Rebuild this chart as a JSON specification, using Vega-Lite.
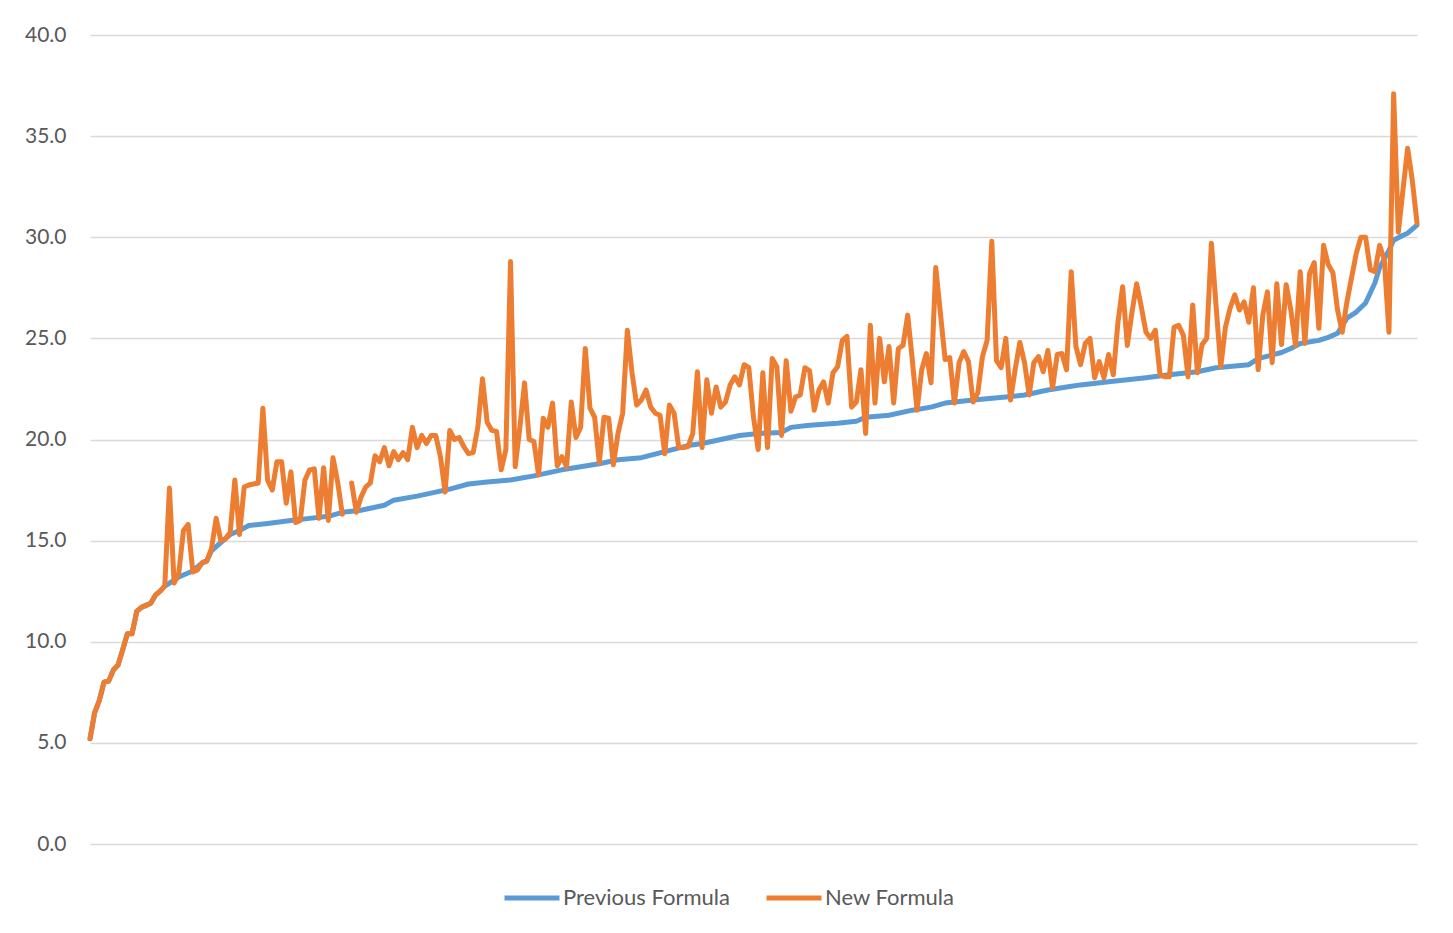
{
  "$schema": "https://vega.github.io/schema/vega-lite/v6.json",
  "width": 1327,
  "height": 809,
  "autosize": {"type": "none"},
  "padding": {"left": 90, "top": 35, "right": 36, "bottom": 89},
  "background": "white",
  "config": {"view": {"stroke": null}, "font": "Lato"},
  "datasets": {
    "prev": [
      {"i":0,"v":5.2},{"i":1,"v":6.5},{"i":2,"v":7.1},{"i":3,"v":8.0},{"i":4,"v":8.06},{"i":5,"v":8.6},{"i":6,"v":8.85},{"i":7,"v":9.6},{"i":8,"v":10.4},{"i":9,"v":10.4},{"i":10,"v":11.5},{"i":11,"v":11.7},{"i":12,"v":11.8},{"i":13,"v":11.9},{"i":14,"v":12.3},{"i":15,"v":12.5},{"i":16,"v":12.75},{"i":17,"v":12.9},{"i":19,"v":13.2},{"i":22,"v":13.5},{"i":24,"v":13.9},{"i":25,"v":14.0},{"i":26,"v":14.5},{"i":28,"v":14.9},{"i":30,"v":15.3},{"i":32,"v":15.5},{"i":34,"v":15.75},{"i":38,"v":15.85},{"i":43,"v":16.0},{"i":47,"v":16.1},{"i":51,"v":16.2},{"i":54,"v":16.4},{"i":58,"v":16.5},{"i":63,"v":16.75},{"i":65,"v":17.0},{"i":70,"v":17.2},{"i":74,"v":17.4},{"i":77,"v":17.55},{"i":81,"v":17.8},{"i":85,"v":17.9},{"i":90,"v":18.0},{"i":95,"v":18.2},{"i":98,"v":18.35},{"i":101,"v":18.5},{"i":109,"v":18.8},{"i":113,"v":19.0},{"i":118,"v":19.1},{"i":123,"v":19.4},{"i":128,"v":19.7},{"i":131,"v":19.8},{"i":135,"v":20.0},{"i":139,"v":20.2},{"i":143,"v":20.3},{"i":148,"v":20.35},{"i":150,"v":20.6},{"i":154,"v":20.7},{"i":160,"v":20.8},{"i":164,"v":20.9},{"i":166,"v":21.1},{"i":171,"v":21.2},{"i":176,"v":21.45},{"i":180,"v":21.6},{"i":183,"v":21.8},{"i":189,"v":21.95},{"i":196,"v":22.1},{"i":200,"v":22.2},{"i":205,"v":22.45},{"i":209,"v":22.6},{"i":212,"v":22.7},{"i":218,"v":22.85},{"i":226,"v":23.05},{"i":231,"v":23.2},{"i":237,"v":23.35},{"i":241,"v":23.55},{"i":248,"v":23.7},{"i":250,"v":24.0},{"i":255,"v":24.3},{"i":257,"v":24.5},{"i":259,"v":24.75},{"i":263,"v":24.9},{"i":265,"v":25.05},{"i":267,"v":25.25},{"i":269,"v":26.0},{"i":271,"v":26.3},{"i":273,"v":26.75},{"i":275,"v":27.75},{"i":276,"v":28.5},{"i":278,"v":29.35},{"i":279,"v":29.85},{"i":281,"v":30.1},{"i":282,"v":30.2},{"i":284,"v":30.6}
    ],
    "new": [
      {"i":0,"v":5.2},{"i":1,"v":6.5},{"i":2,"v":7.1},{"i":3,"v":8.0},{"i":4,"v":8.06},{"i":5,"v":8.6},{"i":6,"v":8.85},{"i":7,"v":9.6},{"i":8,"v":10.4},{"i":9,"v":10.4},
      {"i":10,"v":11.5},{"i":11,"v":11.7},{"i":12,"v":11.8},{"i":13,"v":11.9},{"i":14,"v":12.3},{"i":15,"v":12.5},{"i":16,"v":12.75},{"i":17,"v":17.6},{"i":18,"v":12.9},{"i":19,"v":13.4},
      {"i":20,"v":15.5},{"i":21,"v":15.8},{"i":22,"v":13.45},{"i":23,"v":13.55},{"i":24,"v":13.9},{"i":25,"v":14.0},{"i":26,"v":14.6},{"i":27,"v":16.1},{"i":28,"v":15.0},{"i":29,"v":15.1},
      {"i":30,"v":15.4},{"i":31,"v":18.0},{"i":32,"v":15.3},{"i":33,"v":17.65},{"i":34,"v":17.75},{"i":35,"v":17.8},{"i":36,"v":17.85},{"i":37,"v":21.55},{"i":38,"v":18.0},{"i":39,"v":17.5},
      {"i":40,"v":18.9},{"i":41,"v":18.9},{"i":42,"v":16.85},{"i":43,"v":18.4},{"i":44,"v":15.9},{"i":45,"v":16.0},{"i":46,"v":18.0},{"i":47,"v":18.5},{"i":48,"v":18.55},{"i":49,"v":16.1},
      {"i":50,"v":18.6},{"i":51,"v":16.0},{"i":52,"v":19.1},{"i":53,"v":17.9},{"i":54,"v":16.3},{"i":55,"v":null},{"i":56,"v":17.85},{"i":57,"v":16.4},{"i":58,"v":17.15},{"i":59,"v":17.65},
      {"i":60,"v":17.85},{"i":61,"v":19.2},{"i":62,"v":18.9},{"i":63,"v":19.6},{"i":64,"v":18.7},{"i":65,"v":19.4},{"i":66,"v":19.0},{"i":67,"v":19.35},{"i":68,"v":19.0},{"i":69,"v":20.6},
      {"i":70,"v":19.6},{"i":71,"v":20.2},{"i":72,"v":19.8},{"i":73,"v":20.2},{"i":74,"v":20.2},{"i":75,"v":19.15},{"i":76,"v":17.4},{"i":77,"v":20.45},{"i":78,"v":20.0},{"i":79,"v":20.1},
      {"i":80,"v":19.65},{"i":81,"v":19.3},{"i":82,"v":19.35},{"i":83,"v":20.6},{"i":84,"v":23.0},{"i":85,"v":20.85},{"i":86,"v":20.45},{"i":87,"v":20.4},{"i":88,"v":18.5},{"i":89,"v":19.5},
      {"i":90,"v":28.8},{"i":91,"v":18.65},{"i":92,"v":20.6},{"i":93,"v":22.8},{"i":94,"v":20.0},{"i":95,"v":19.9},{"i":96,"v":18.25},{"i":97,"v":21.05},{"i":98,"v":20.6},{"i":99,"v":21.8},
      {"i":100,"v":18.7},{"i":101,"v":19.15},{"i":102,"v":18.65},{"i":103,"v":21.85},{"i":104,"v":20.1},{"i":105,"v":20.6},{"i":106,"v":24.5},{"i":107,"v":21.55},{"i":108,"v":21.1},{"i":109,"v":18.85},
      {"i":110,"v":21.1},{"i":111,"v":21.05},{"i":112,"v":18.75},{"i":113,"v":20.3},{"i":114,"v":21.3},{"i":115,"v":25.4},{"i":116,"v":23.3},{"i":117,"v":21.7},{"i":118,"v":21.95},{"i":119,"v":22.45},
      {"i":120,"v":21.6},{"i":121,"v":21.3},{"i":122,"v":21.2},{"i":123,"v":19.3},{"i":124,"v":21.7},{"i":125,"v":21.3},{"i":126,"v":19.6},{"i":127,"v":19.6},{"i":128,"v":19.65},{"i":129,"v":20.3},
      {"i":130,"v":23.35},{"i":131,"v":19.6},{"i":132,"v":22.95},{"i":133,"v":21.3},{"i":134,"v":22.6},{"i":135,"v":21.6},{"i":136,"v":21.85},{"i":137,"v":22.7},{"i":138,"v":23.1},{"i":139,"v":22.7},
      {"i":140,"v":23.7},{"i":141,"v":23.55},{"i":142,"v":21.1},{"i":143,"v":19.5},{"i":144,"v":23.3},{"i":145,"v":19.6},{"i":146,"v":24.0},{"i":147,"v":23.6},{"i":148,"v":20.2},{"i":149,"v":23.9},
      {"i":150,"v":21.4},{"i":151,"v":22.1},{"i":152,"v":22.2},{"i":153,"v":23.55},{"i":154,"v":23.4},{"i":155,"v":21.45},{"i":156,"v":22.45},{"i":157,"v":22.85},{"i":158,"v":21.8},{"i":159,"v":23.3},
      {"i":160,"v":23.6},{"i":161,"v":24.9},{"i":162,"v":25.1},{"i":163,"v":21.6},{"i":164,"v":21.85},{"i":165,"v":23.45},{"i":166,"v":20.3},{"i":167,"v":25.65},{"i":168,"v":21.8},{"i":169,"v":25.0},
      {"i":170,"v":22.85},{"i":171,"v":24.6},{"i":172,"v":21.8},{"i":173,"v":24.5},{"i":174,"v":24.65},{"i":175,"v":26.15},{"i":176,"v":23.9},{"i":177,"v":21.45},{"i":178,"v":23.45},{"i":179,"v":24.25},
      {"i":180,"v":22.8},{"i":181,"v":28.5},{"i":182,"v":26.25},{"i":183,"v":23.95},{"i":184,"v":24.05},{"i":185,"v":21.8},{"i":186,"v":23.8},{"i":187,"v":24.35},{"i":188,"v":23.85},{"i":189,"v":21.85},
      {"i":190,"v":22.3},{"i":191,"v":24.1},{"i":192,"v":24.9},{"i":193,"v":29.8},{"i":194,"v":23.9},{"i":195,"v":23.55},{"i":196,"v":25.0},{"i":197,"v":21.95},{"i":198,"v":23.45},{"i":199,"v":24.8},
      {"i":200,"v":23.8},{"i":201,"v":22.2},{"i":202,"v":23.8},{"i":203,"v":24.1},{"i":204,"v":23.35},{"i":205,"v":24.4},{"i":206,"v":22.55},{"i":207,"v":24.2},{"i":208,"v":24.25},{"i":209,"v":23.45},
      {"i":210,"v":28.3},{"i":211,"v":24.6},{"i":212,"v":23.7},{"i":213,"v":24.75},{"i":214,"v":25.0},{"i":215,"v":23.05},{"i":216,"v":23.85},{"i":217,"v":23.05},{"i":218,"v":24.2},{"i":219,"v":23.2},
      {"i":220,"v":25.8},{"i":221,"v":27.55},{"i":222,"v":24.65},{"i":223,"v":26.3},{"i":224,"v":27.7},{"i":225,"v":26.55},{"i":226,"v":25.3},{"i":227,"v":25.0},{"i":228,"v":25.4},{"i":229,"v":23.2},
      {"i":230,"v":23.1},{"i":231,"v":23.1},{"i":232,"v":25.55},{"i":233,"v":25.65},{"i":234,"v":25.15},{"i":235,"v":23.1},{"i":236,"v":26.65},{"i":237,"v":23.3},{"i":238,"v":24.7},{"i":239,"v":25.0},
      {"i":240,"v":29.7},{"i":241,"v":26.6},{"i":242,"v":23.6},{"i":243,"v":25.55},{"i":244,"v":26.5},{"i":245,"v":27.15},{"i":246,"v":26.4},{"i":247,"v":26.8},{"i":248,"v":25.8},{"i":249,"v":27.5},
      {"i":250,"v":23.45},{"i":251,"v":26.15},{"i":252,"v":27.3},{"i":253,"v":23.8},{"i":254,"v":27.7},{"i":255,"v":24.7},{"i":256,"v":27.65},{"i":257,"v":26.4},{"i":258,"v":24.65},{"i":259,"v":28.3},
      {"i":260,"v":24.75},{"i":261,"v":28.2},{"i":262,"v":28.75},{"i":263,"v":25.5},{"i":264,"v":29.6},{"i":265,"v":28.65},{"i":266,"v":28.25},{"i":267,"v":26.4},{"i":268,"v":25.3},{"i":269,"v":26.8},
      {"i":270,"v":28.0},{"i":271,"v":29.2},{"i":272,"v":30.0},{"i":273,"v":30.0},{"i":274,"v":28.4},{"i":275,"v":28.3},{"i":276,"v":29.6},{"i":277,"v":28.9},{"i":278,"v":25.3},{"i":279,"v":37.1},
      {"i":280,"v":30.25},{"i":281,"v":32.35},{"i":282,"v":34.4},{"i":283,"v":32.8},{"i":284,"v":30.7}
    ]
  },
  "encoding": {
    "x": {"field": "i", "type": "quantitative", "scale": {"domain": [0, 284], "nice": false, "zero": false}, "axis": null},
    "y": {
      "field": "v", "type": "quantitative",
      "scale": {"domain": [0, 40], "nice": false},
      "axis": {
        "values": [0, 5, 10, 15, 20, 25, 30, 35, 40],
        "format": ".1f", "title": null, "domain": false, "ticks": false,
        "labelPadding": 24, "labelFontSize": 21, "labelColor": "#595959", "labelFont": "Lato",
        "gridColor": "#D9D9D9", "gridWidth": 1.3
      }
    }
  },
  "layer": [
    {
      "data": {"name": "prev"},
      "mark": {"type": "line", "strokeWidth": 5, "strokeJoin": "round", "strokeCap": "round"},
      "encoding": {
        "color": {
          "datum": "Previous Formula", "type": "nominal",
          "scale": {"domain": ["Previous Formula", "New Formula"], "range": ["#5B9BD5", "#ED7D31"]},
          "legend": {
            "title": null, "orient": "none", "legendX": 412, "legendY": 833, "direction": "horizontal",
            "symbolType": "stroke", "symbolSize": 3025, "symbolStrokeWidth": 5,
            "labelFontSize": 22, "labelColor": "#595959", "labelFont": "Lato", "labelLimit": 400,
            "columnPadding": 26, "labelOffset": 1, "padding": 0
          }
        }
      }
    },
    {
      "data": {"name": "new"},
      "mark": {"type": "line", "strokeWidth": 5, "strokeJoin": "round", "strokeCap": "round", "invalid": "break-paths-show-domains"},
      "encoding": {"color": {"datum": "New Formula", "type": "nominal"}}
    }
  ]
}
